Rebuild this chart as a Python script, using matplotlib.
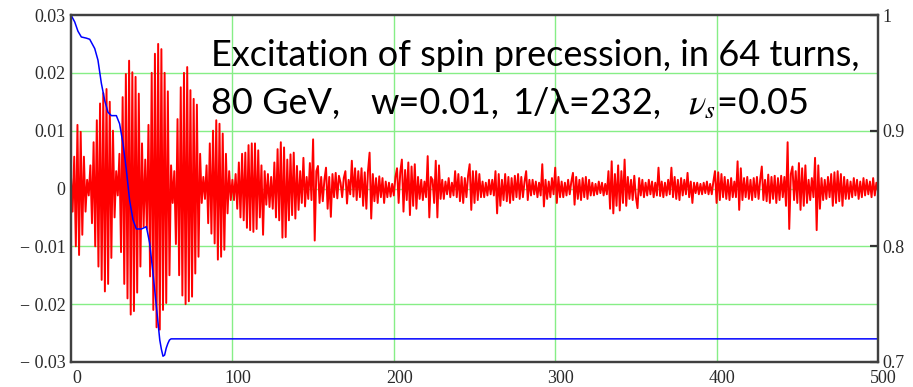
import numpy as np
import matplotlib
matplotlib.use("Agg")
import matplotlib.pyplot as plt
from matplotlib.transforms import ScaledTranslation

plt.rcParams['mathtext.fontset'] = 'stix'

# red signal, one value per turn, in units of 1e-4 (left axis)
red_e4 = [
    20, -40, 55, -100, 110, -115, 98, -80, 55, -40,
    15, -12, 40, -60, 80, -100, 118, -135, 147, -158,
    165, -178, 172, -165, 150, -120, 100, -50, 30, -12,
    60, -110, 158, -165, 198, -190, 221, -218, 201, -212,
    193, -180, 164, -135, 78, -66, 50, -70, 110, -152,
    200, -210, 233, -240, 250, -244, 241, -210, 200, -198,
    168, -150, 40, -25, 30, -96, 120, -150, 175, -185,
    200, -200, 210, -195, 170, -187, 155, -147, 145, -118,
    60, -25, 20, -18, 40, -60, 78, -78, 100, -95,
    118, -123, 112, -118, 95, -106, 60, -43, 30, -20,
    15, -20, 25, -35, 45, -50, 60, -55, 62, -68,
    75, -72, 78, -75, 78, -70, 66, -50, 40, -80,
    30, -28, 25, -32, 20, -35, 45, -50, 68, -55,
    80, -85, 71, -84, 50, -55, 59, -46, 62, -52,
    39, -37, 30, -25, 53, -31, 20, -18, 44, -20,
    85, -90, 30, 39, -25, 20, -22, 15, 36, -35,
    20, -49, 25, -15, 27, -17, 22, 10, -15, 18,
    30, -26, 15, -10, 48, -14, 35, -20, 30, -15,
    35, -30, 28, -35, 30, 62, -52, 25, -22, 18,
    -25, 21, -15, 18, -25, 12, -15, 10, -14, 8,
    -12, 20, 35, -25, 28, 50, -40, 32, -20, 45,
    -46, 38, -30, 42, -35, 20, -18, 15, -20, 12,
    -15, 56, -50, 20, 15, -25, 48, -50, 40, -18,
    15, -18, 12, -10, 18, -15, 10, -12, 30, -15,
    25, -22, 20, -25, 18, -15, 22, 42, -37, 30,
    -25, 30, -20, 25, -15, 12, -15, 10, -12, 15,
    -10, 15, -12, 30, -43, 25, -30, 15, -20, 25,
    -22, 20, -25, 18, -20, 22, -15, 25, -18, 20,
    -15, 12, 30, -20, 15, -12, 15, -10, 12, -15,
    10, -12, 42, -31, 15, -18, 12, -15, 18, -10,
    36, -25, 20, -15, 12, -15, 10, -12, 15, -10,
    12, 27, -28, 20, -18, 15, -20, 18, -15, 20,
    -18, 15, -12, 10, -12, 8, -10, 12, -8, 10,
    -12, 8, -10, 30, -35, 47, -43, 25, -30, 40,
    -38, 30, -25, 50, -30, 20, -18, 15, -20, 22,
    -15, -34, 18, -12, 15, -15, 10, -12, 15, -10,
    12, -15, 10, -12, 36, -13, 12, -15, 10, -12,
    15, -10, 36, -15, 20, -18, 15, -20, 18, -12,
    15, -10, 27, -15, 12, -25, 10, -8, 10, -10,
    8, -10, 10, -8, 12, -10, 8, -10, 12, 30,
    -25, 28, -20, 25, -15, 20, -18, 15, -20, 18,
    -15, 12, -15, 47, -37, 35, -20, 18, -15, 20,
    -18, 15, -20, 18, -15, 20, -18, 15, 38, -20,
    15, -22, 24, -25, 20, -18, 22, -25, 18, -20,
    22, -15, 20, -30, 80, -70, 25, 38, -20, 30,
    -25, 44, -37, 35, -30, 40, -25, 15, -20, 18,
    -15, 53, -72, 40, -35, 18, -20, 15, -18, 20,
    -15, 25, -30, 28, -25, 30, -22, 25, -30, 20,
    -18, 15, -18, 12, -15, 18, -12, 15, -18, 12,
    -15, 18, -12, 15, -10, 12, -15, 18, -12, 10,
    -5,
]
red = np.array(red_e4) * 1e-4
turns = np.arange(len(red))

# blue curve (right axis)
blue_x = [0, 2.3, 4.3, 6.4, 9.5, 11.6, 14.7, 16.7, 18.8, 20.9, 22.9, 25, 28.1,
          30.1, 32.2, 34.3, 36.3, 38.4, 40.5, 43.6, 46.7, 48.7, 50.8, 52.9,
          55, 56, 57, 58, 59, 60, 61, 62, 500]
blue_y = [1.0, 0.994, 0.986, 0.981, 0.980, 0.979, 0.971, 0.961, 0.941, 0.926,
          0.916, 0.913, 0.913, 0.906, 0.889, 0.866, 0.840, 0.823, 0.815, 0.815,
          0.817, 0.803, 0.777, 0.748, 0.719, 0.711, 0.705, 0.706, 0.712, 0.716,
          0.719, 0.720, 0.720]

left_ticks = [-0.03, -0.02, -0.01, 0, 0.01, 0.02, 0.03]
left_labels = ['\u2212 0.03', '\u2212 0.02', '\u2212 0.01', '0', '0.01', '0.02', '0.03']
right_ticks = [0.7, 0.8, 0.9, 1.0]
right_labels = ['0.7', '0.8', '0.9', '1']
x_ticks = [0, 100, 200, 300, 400, 500]

fig = plt.figure(figsize=(9.13, 3.87), dpi=100)
ax = fig.add_axes([71 / 913, 25 / 387, 807 / 913, 347 / 387])

grid_c = '#86ee86'
for v in [-0.02, -0.01, 0, 0.01, 0.02]:
    ax.axhline(v, color=grid_c, lw=1.0, zorder=0)
for v in [100, 200, 300, 400]:
    ax.axvline(v, color=grid_c, lw=1.0, zorder=0)

ax.plot(turns, red, color='#ff0000', lw=1.4, zorder=2)
ax.set_xlim(0, 500)
ax.set_ylim(-0.03, 0.03)
ax.set_yticks(left_ticks)
ax.set_yticklabels(left_labels)
ax.set_xticks(x_ticks)
ax.set_xticklabels([str(t) for t in x_ticks])
ax.tick_params(axis='both', length=0, labelsize=13, labelcolor='#2a2a2a')
ax.tick_params(axis='y', pad=4)
ax.tick_params(axis='x', pad=6)
for lab in ax.get_xticklabels() + ax.get_yticklabels():
    lab.set_fontfamily('Liberation Serif')
for lab in ax.get_xticklabels():
    lab.set_transform(lab.get_transform() + ScaledTranslation(4 / 72, 0, fig.dpi_scale_trans))

ax2 = ax.twinx()
ax2.plot(blue_x, blue_y, color='#0000ff', lw=1.1)
ax2.set_ylim(0.7, 1.0)
ax2.set_yticks(right_ticks)
ax2.set_yticklabels(right_labels)
ax2.tick_params(axis='y', direction='in', length=6, width=1.6, color='#333333',
                labelsize=13, labelcolor='#2a2a2a', pad=3)
for lab in ax2.get_yticklabels():
    lab.set_fontfamily('Liberation Serif')

for a in (ax, ax2):
    for s in a.spines.values():
        s.set_color('#404040')
        s.set_linewidth(1.6)

# annotation text
fs = 26
fig.text(211 / 913, 1 - 66 / 387, 'Excitation of spin precession, in 64 turns,',
         fontsize=fs, family='Lato', va='baseline', ha='left')
fig.text(211 / 913, 1 - 114 / 387, '80 GeV,', fontsize=fs, family='Lato', va='baseline', ha='left')
fig.text(370 / 913, 1 - 114 / 387, 'w=0.01,', fontsize=fs, family='Lato', va='baseline', ha='left')
fig.text(512 / 913, 1 - 114 / 387, '1/\u03bb=232,', fontsize=fs, family='Lato', va='baseline', ha='left')
fig.text(688 / 913, 1 - 114 / 387, r'$\nu_s$=0.05', fontsize=fs, family='Lato', va='baseline', ha='left')

fig.savefig('out.png', dpi=100)
